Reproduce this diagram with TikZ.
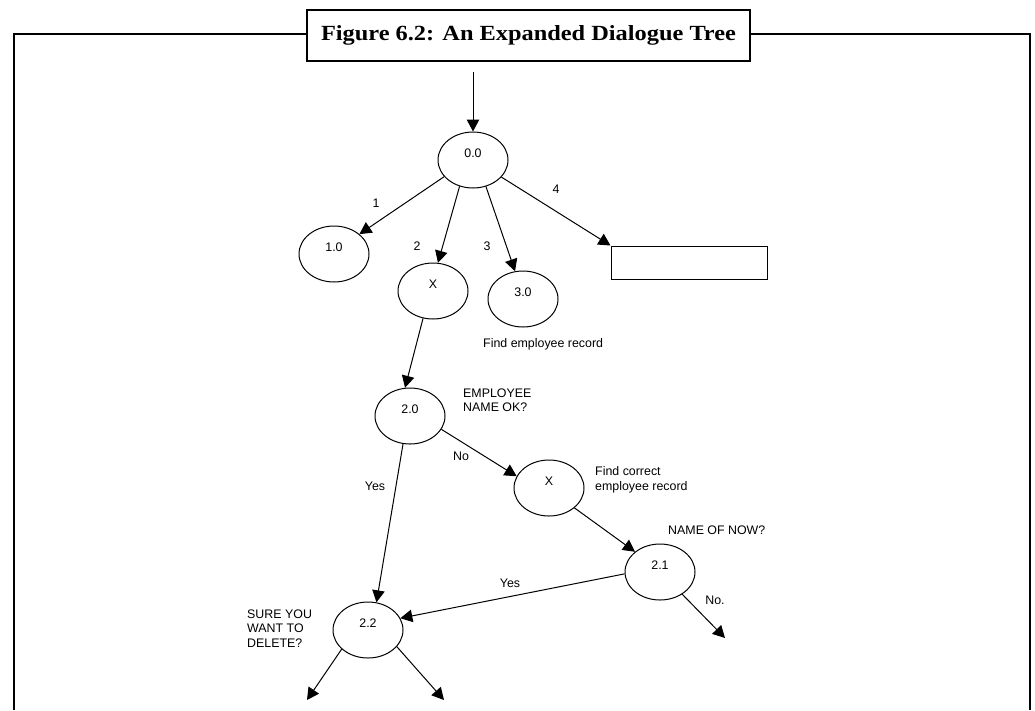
\documentclass[tikz,border=0pt]{standalone}
\usepackage{fontspec}
\setmainfont{Liberation Sans}
\newfontfamily\titlefont{Liberation Serif}
\usetikzlibrary{arrows.meta,shapes.geometric}
\tikzset{
  ell/.style={draw, ellipse, line width=1pt, minimum width=70pt, minimum height=56pt, inner sep=0pt},
  inlbl/.style={font=\fontsize{12.4}{14.5}\selectfont, yshift=7pt},
  txt/.style={font=\fontsize{12.4}{14.5}\selectfont, inner sep=0pt},
  txtw/.style={txt, anchor=west, align=left},
  arr/.style={line width=1pt, -{Triangle[length=12pt,width=12.5pt]}},
  frame/.style={line width=2.7pt}
}
\begin{document}
\begin{tikzpicture}[x=1pt,y=-1pt]
\useasboundingbox (0,0) rectangle (1035,710);
% outer frame
\node[draw, line width=2.8pt, minimum width=443pt, minimum height=51pt, inner sep=0pt] (title) at (528.5,35.5)
  {\titlefont\bfseries\fontsize{21.6}{24}\selectfont\scalebox{1.128}[1]{Figure 6.2: An Expanded Dialogue Tree}};
\draw[frame] (14,710) -- (14,34) -- (title.west |- 0,34);
\draw[frame] (title.east |- 0,34) -- (1030,34) -- (1030,710);
% nodes
\node[ell, label={[inlbl]center:0.0}] (n00) at (473,160) {};
\node[ell, label={[inlbl]center:1.0}] (n10) at (334,254) {};
\node[ell, label={[inlbl]center:X}] (nx1) at (433,291) {};
\node[ell, label={[inlbl]center:3.0}] (n30) at (523,299) {};
\node[draw, line width=1pt, minimum width=156pt, minimum height=33pt, inner sep=0pt] (box) at (689,262.5) {};
\node[ell, label={[inlbl]center:2.0}] (n20) at (410,416) {};
\node[ell, label={[inlbl]center:X}] (nx2) at (549,488) {};
\node[ell, label={[inlbl]center:2.1}] (n21) at (660,572) {};
\node[ell, label={[inlbl]center:2.2}] (n22) at (368,630) {};
% free ends
\coordinate (in) at (473,72);
\coordinate (no21) at (725,638);
\coordinate (l22) at (307,700);
\coordinate (r22) at (444,700);
% connectors
\draw[arr] (in) -- (n00.north);
\draw[arr] (n00.210) -- (n10.38);
\draw[arr] (n00.243) -- (nx1.80);
\draw[arr] (n00.296) -- (n30.106);
\draw[arr] (n00.329) -- (box.north west);
\draw[arr] (nx1.250) -- (n20.100);
\draw[arr] (n20.337) -- (nx2.160);
\draw[arr] (n20.256) -- (n22.73);
\draw[arr] (nx2.322) -- (n21.141);
\draw[arr] (n21.183) -- (n22.20);
\draw[arr] (n21.315) -- (no21);
\draw[arr] (n22.216) -- (l22);
\draw[arr] (n22.330) -- (r22);
% labels
\node[txt] (t1) at (376,203) {1};
\node[txt] (t2) at (417,246) {2};
\node[txt] (t3) at (487,246) {3};
\node[txt] (t4) at (556,189) {4};
\node[txt] (tno) at (461,456) {No};
\node[txt] (tyes1) at (375,486) {Yes};
\node[txt] (tyes2) at (510,583) {Yes};
\node[txt] (tno2) at (715,600) {No.};
\node[txtw] (find) at (483,344) {Find employee record};
\node[txtw] (empok) at (463,400) {EMPLOYEE\\NAME OK?};
\node[txtw] (findc) at (595,480) {Find correct\\employee record};
\node[txtw] (nameof) at (668,530) {NAME OF NOW?};
\node[txtw] (sure) at (247,628.5) {SURE YOU\\WANT TO\\DELETE?};
\end{tikzpicture}
\end{document}
